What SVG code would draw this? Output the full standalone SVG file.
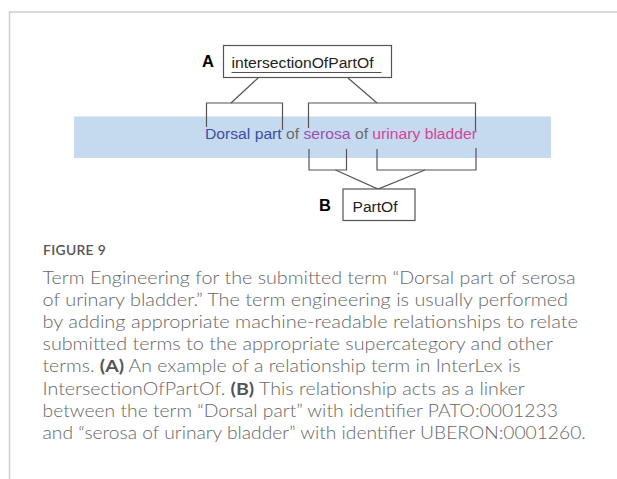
<svg xmlns="http://www.w3.org/2000/svg" width="617" height="479" viewBox="0 0 617 479">
<style>
.frame{stroke:#cfcfcf;stroke-width:1.5;fill:none}
.ln{stroke:#555;stroke-width:1.2;fill:none}
.box{stroke:#555;stroke-width:1.2;fill:#fff}
.dg{font-family:"Liberation Sans",Arial,sans-serif;font-size:15.5px;fill:#222}
.lbl{font-family:"Liberation Sans",Arial,sans-serif;font-size:16.5px;font-weight:bold;fill:#000}
.cap{font-family:Lato,"Open Sans",sans-serif;font-size:17px;font-weight:300;fill:#666}
.capb{font-weight:bold;fill:#555}
.fig{font-family:Lato,"Open Sans",sans-serif;font-size:14px;font-weight:600;fill:#555;letter-spacing:0.3px}
</style>
<rect width="617" height="479" fill="#fff"/>
<path class="frame" d="M9.5,479 V12 H617"/>

<g id="term">
<rect x="74" y="116.5" width="477" height="41.5" fill="#c6daef"/>
<text class="dg" x="205" y="139" textLength="272" lengthAdjust="spacingAndGlyphs"><tspan fill="#3b4ea6">Dorsal part</tspan><tspan fill="#6a6a6a"> of </tspan><tspan fill="#9b4fb2">serosa</tspan><tspan fill="#6a6a6a"> of </tspan><tspan fill="#d3449a">urinary bladder</tspan></text>
</g>

<g id="connectors">
<path class="ln" d="M258,78 L231,103"/>
<path class="ln" d="M348,78 L377,103"/>
<path class="ln" d="M206.5,127 V103 H282.5 V130"/>
<path class="ln" d="M308.5,128 V103 H475.5 V131"/>
<path class="ln" d="M309,149 V170 H346.5 V149"/>
<path class="ln" d="M377,149 V170 H476 V148"/>
<path class="ln" d="M335.5,170 L378,189 L425,170"/>
</g>

<g id="nodeA">
<rect class="box" x="223.5" y="45.5" width="168" height="32"/>
<text class="lbl" x="202" y="66.5">A</text>
<text class="dg" x="231.5" y="68" textLength="142" lengthAdjust="spacingAndGlyphs">intersectionOfPartOf</text>
<line class="ln" x1="231.5" y1="72.5" x2="381.5" y2="72.5"/>
</g>

<g id="nodeB">
<rect class="box" x="343" y="189" width="72" height="31.5"/>
<text class="lbl" x="319" y="211">B</text>
<text class="dg" x="352.5" y="212" textLength="45" lengthAdjust="spacingAndGlyphs">PartOf</text>
</g>

<g id="caption">
<text class="fig" x="43" y="255" textLength="63" lengthAdjust="spacingAndGlyphs">FIGURE 9</text>
<text class="cap" x="42.5" y="283.5" textLength="533" lengthAdjust="spacingAndGlyphs">Term Engineering for the submitted term “Dorsal part of serosa</text>
<text class="cap" x="42.5" y="305.7" textLength="525.5" lengthAdjust="spacingAndGlyphs">of urinary bladder.” The term engineering is usually performed</text>
<text class="cap" x="42.5" y="327.9" textLength="535.5" lengthAdjust="spacingAndGlyphs">by adding appropriate machine-readable relationships to relate</text>
<text class="cap" x="42.5" y="350.1" textLength="510.5" lengthAdjust="spacingAndGlyphs">submitted terms to the appropriate supercategory and other</text>
<text class="cap" x="42.5" y="372.3" textLength="478" lengthAdjust="spacingAndGlyphs">terms. <tspan class="capb">(A)</tspan> An example of a relationship term in InterLex is</text>
<text class="cap" x="42.5" y="394.5" textLength="482.3" lengthAdjust="spacingAndGlyphs">IntersectionOfPartOf. <tspan class="capb">(B)</tspan> This relationship acts as a linker</text>
<text class="cap" x="42.5" y="416.7" textLength="515.4" lengthAdjust="spacingAndGlyphs">between the term “Dorsal part” with identifier PATO:0001233</text>
<text class="cap" x="42.5" y="438.9" textLength="543.3" lengthAdjust="spacingAndGlyphs">and “serosa of urinary bladder” with identifier UBERON:0001260.</text>
</g>
</svg>
